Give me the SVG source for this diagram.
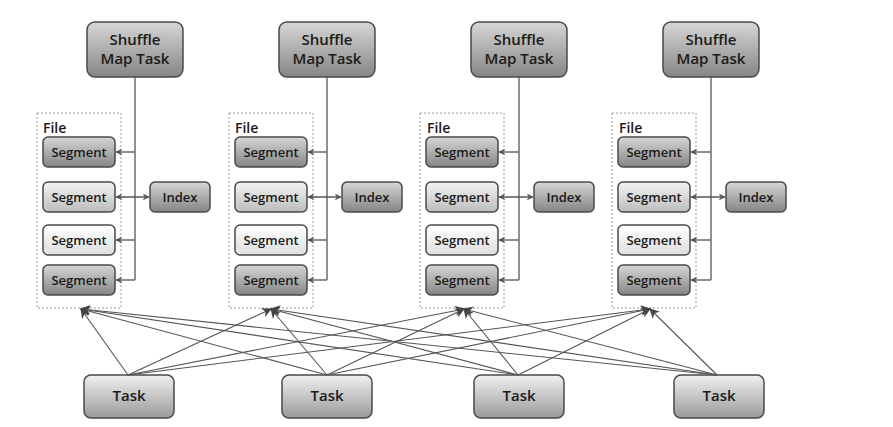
<svg xmlns="http://www.w3.org/2000/svg" width="893" height="427" viewBox="0 0 893 427">
<defs>
<linearGradient id="gDark" x1="0" y1="0" x2="0" y2="1"><stop offset="0" stop-color="#d6d6d6"/><stop offset="1" stop-color="#858585"/></linearGradient>
<linearGradient id="gMid" x1="0" y1="0" x2="0" y2="1"><stop offset="0" stop-color="#f4f4f4"/><stop offset="1" stop-color="#bcbcbc"/></linearGradient>
<linearGradient id="gLight" x1="0" y1="0" x2="0" y2="1"><stop offset="0" stop-color="#ffffff"/><stop offset="1" stop-color="#dedede"/></linearGradient>
<linearGradient id="gTask" x1="0" y1="0" x2="0" y2="1"><stop offset="0" stop-color="#f0f0f0"/><stop offset="1" stop-color="#9a9a9a"/></linearGradient>
<marker id="ah" viewBox="0 0 10 10" refX="9" refY="5" markerWidth="7" markerHeight="7" orient="auto-start-reverse" markerUnits="userSpaceOnUse">
<path d="M0,0 L10,5 L0,10 L3,5 z" fill="#555"/>
</marker>
<marker id="ah2" viewBox="0 0 10 10" refX="9" refY="5" markerWidth="10" markerHeight="10" orient="auto" markerUnits="userSpaceOnUse">
<path d="M0,0 L10,5 L0,10 L3,5 z" fill="#444"/>
</marker>
<g id="unit">
</g>
</defs>
<style>
.box{stroke:#4a4a4a;stroke-width:1.5}
.dark{fill:url(#gDark)}
.mid{fill:url(#gMid)}
.light{fill:url(#gLight)}
.task{fill:url(#gTask)}
.file{fill:none;stroke:#9a9a9a;stroke-width:1;stroke-dasharray:2,2}
text{font-family:"Open Sans","Noto Sans","Liberation Sans",sans-serif;font-weight:600;fill:#1a1a1a;text-anchor:middle}
.t15{font-size:15px}
.t13{font-size:13px}
.lab{text-anchor:start;font-size:14px}
.ln{stroke:#555;stroke-width:1.3;fill:none}
.ta{stroke:#555;stroke-width:1.1;fill:none}
</style>
<rect width="893" height="427" fill="#ffffff"/>

<g id="group1">
<g id="smt1"><rect class="box dark" x="87" y="22" width="96" height="55" rx="8"/><text class="t15" x="135" y="45">Shuffle</text><text class="t15" x="135" y="64">Map Task</text></g>
<g id="file1"><rect class="file" x="37" y="113" width="84" height="195"/><text class="lab" x="43" y="133">File</text></g>
<g id="seg1a"><rect class="box dark" x="43" y="137" width="72" height="30" rx="5"/><text class="t13" x="79" y="157">Segment</text></g>
<g id="seg1b"><rect class="box mid" x="43" y="182" width="72" height="30" rx="5"/><text class="t13" x="79" y="202">Segment</text></g>
<g id="seg1c"><rect class="box light" x="43" y="225" width="72" height="30" rx="5"/><text class="t13" x="79" y="245">Segment</text></g>
<g id="seg1d"><rect class="box dark" x="43" y="265" width="72" height="30" rx="5"/><text class="t13" x="79" y="285">Segment</text></g>
<g id="idx1"><rect class="box dark" x="150" y="182" width="60" height="30" rx="5"/><text class="t13" x="180" y="202">Index</text></g>
</g>

<g id="group2">
<g id="smt2"><rect class="box dark" x="279" y="22" width="96" height="55" rx="8"/><text class="t15" x="327" y="45">Shuffle</text><text class="t15" x="327" y="64">Map Task</text></g>
<g id="file2"><rect class="file" x="229" y="113" width="84" height="195"/><text class="lab" x="235" y="133">File</text></g>
<g id="seg2a"><rect class="box dark" x="235" y="137" width="72" height="30" rx="5"/><text class="t13" x="271" y="157">Segment</text></g>
<g id="seg2b"><rect class="box mid" x="235" y="182" width="72" height="30" rx="5"/><text class="t13" x="271" y="202">Segment</text></g>
<g id="seg2c"><rect class="box light" x="235" y="225" width="72" height="30" rx="5"/><text class="t13" x="271" y="245">Segment</text></g>
<g id="seg2d"><rect class="box dark" x="235" y="265" width="72" height="30" rx="5"/><text class="t13" x="271" y="285">Segment</text></g>
<g id="idx2"><rect class="box dark" x="342" y="182" width="60" height="30" rx="5"/><text class="t13" x="372" y="202">Index</text></g>
</g>

<g id="group3">
<g id="smt3"><rect class="box dark" x="471" y="22" width="96" height="55" rx="8"/><text class="t15" x="519" y="45">Shuffle</text><text class="t15" x="519" y="64">Map Task</text></g>
<g id="file3"><rect class="file" x="420" y="113" width="84" height="195"/><text class="lab" x="427" y="133">File</text></g>
<g id="seg3a"><rect class="box dark" x="426" y="137" width="72" height="30" rx="5"/><text class="t13" x="462" y="157">Segment</text></g>
<g id="seg3b"><rect class="box mid" x="426" y="182" width="72" height="30" rx="5"/><text class="t13" x="462" y="202">Segment</text></g>
<g id="seg3c"><rect class="box light" x="426" y="225" width="72" height="30" rx="5"/><text class="t13" x="462" y="245">Segment</text></g>
<g id="seg3d"><rect class="box dark" x="426" y="265" width="72" height="30" rx="5"/><text class="t13" x="462" y="285">Segment</text></g>
<g id="idx3"><rect class="box dark" x="534" y="182" width="60" height="30" rx="5"/><text class="t13" x="564" y="202">Index</text></g>
</g>

<g id="group4">
<g id="smt4"><rect class="box dark" x="663" y="22" width="96" height="55" rx="8"/><text class="t15" x="711" y="45">Shuffle</text><text class="t15" x="711" y="64">Map Task</text></g>
<g id="file4"><rect class="file" x="612" y="113" width="84" height="195"/><text class="lab" x="619" y="133">File</text></g>
<g id="seg4a"><rect class="box dark" x="618" y="137" width="72" height="30" rx="5"/><text class="t13" x="654" y="157">Segment</text></g>
<g id="seg4b"><rect class="box mid" x="618" y="182" width="72" height="30" rx="5"/><text class="t13" x="654" y="202">Segment</text></g>
<g id="seg4c"><rect class="box light" x="618" y="225" width="72" height="30" rx="5"/><text class="t13" x="654" y="245">Segment</text></g>
<g id="seg4d"><rect class="box dark" x="618" y="265" width="72" height="30" rx="5"/><text class="t13" x="654" y="285">Segment</text></g>
<g id="idx4"><rect class="box dark" x="726" y="182" width="60" height="30" rx="5"/><text class="t13" x="756" y="202">Index</text></g>
</g>

<g id="tasks">
<g id="task1"><rect class="box task" x="84" y="375" width="90" height="43" rx="7"/><text class="t15" x="129" y="401">Task</text></g>
<g id="task2"><rect class="box task" x="282" y="375" width="90" height="43" rx="7"/><text class="t15" x="327" y="401">Task</text></g>
<g id="task3"><rect class="box task" x="474" y="375" width="90" height="43" rx="7"/><text class="t15" x="519" y="401">Task</text></g>
<g id="task4"><rect class="box task" x="674" y="375" width="90" height="43" rx="7"/><text class="t15" x="719" y="401">Task</text></g>
</g>

<g id="connectors">
<g id="c1">
<line class="ln" x1="135" y1="77" x2="135" y2="280"/>
<line class="ln" x1="135" y1="152" x2="116" y2="152" marker-end="url(#ah)"/>
<line class="ln" x1="116" y1="197" x2="149" y2="197" marker-start="url(#ah)" marker-end="url(#ah)"/>
<line class="ln" x1="135" y1="240" x2="116" y2="240" marker-end="url(#ah)"/>
<line class="ln" x1="135" y1="280" x2="116" y2="280" marker-end="url(#ah)"/>
</g>
<g id="c2">
<line class="ln" x1="327" y1="77" x2="327" y2="280"/>
<line class="ln" x1="327" y1="152" x2="308" y2="152" marker-end="url(#ah)"/>
<line class="ln" x1="308" y1="197" x2="341" y2="197" marker-start="url(#ah)" marker-end="url(#ah)"/>
<line class="ln" x1="327" y1="240" x2="308" y2="240" marker-end="url(#ah)"/>
<line class="ln" x1="327" y1="280" x2="308" y2="280" marker-end="url(#ah)"/>
</g>
<g id="c3">
<line class="ln" x1="519" y1="77" x2="519" y2="280"/>
<line class="ln" x1="519" y1="152" x2="499" y2="152" marker-end="url(#ah)"/>
<line class="ln" x1="499" y1="197" x2="533" y2="197" marker-start="url(#ah)" marker-end="url(#ah)"/>
<line class="ln" x1="519" y1="240" x2="499" y2="240" marker-end="url(#ah)"/>
<line class="ln" x1="519" y1="280" x2="499" y2="280" marker-end="url(#ah)"/>
</g>
<g id="c4">
<line class="ln" x1="711" y1="77" x2="711" y2="280"/>
<line class="ln" x1="711" y1="152" x2="691" y2="152" marker-end="url(#ah)"/>
<line class="ln" x1="691" y1="197" x2="725" y2="197" marker-start="url(#ah)" marker-end="url(#ah)"/>
<line class="ln" x1="711" y1="240" x2="691" y2="240" marker-end="url(#ah)"/>
<line class="ln" x1="711" y1="280" x2="691" y2="280" marker-end="url(#ah)"/>
</g>
<g id="taskarrows">
<line class="ta" x1="128" y1="375" x2="81" y2="309" marker-end="url(#ah2)"/>
<line class="ta" x1="128" y1="375" x2="271" y2="309" marker-end="url(#ah2)"/>
<line class="ta" x1="128" y1="375" x2="464" y2="309" marker-end="url(#ah2)"/>
<line class="ta" x1="128" y1="375" x2="650" y2="309" marker-end="url(#ah2)"/>
<line class="ta" x1="327" y1="375" x2="81" y2="309" marker-end="url(#ah2)"/>
<line class="ta" x1="327" y1="375" x2="271" y2="309" marker-end="url(#ah2)"/>
<line class="ta" x1="327" y1="375" x2="464" y2="309" marker-end="url(#ah2)"/>
<line class="ta" x1="327" y1="375" x2="650" y2="309" marker-end="url(#ah2)"/>
<line class="ta" x1="518" y1="375" x2="81" y2="309" marker-end="url(#ah2)"/>
<line class="ta" x1="518" y1="375" x2="271" y2="309" marker-end="url(#ah2)"/>
<line class="ta" x1="518" y1="375" x2="464" y2="309" marker-end="url(#ah2)"/>
<line class="ta" x1="518" y1="375" x2="650" y2="309" marker-end="url(#ah2)"/>
<line class="ta" x1="717" y1="375" x2="81" y2="309" marker-end="url(#ah2)"/>
<line class="ta" x1="717" y1="375" x2="271" y2="309" marker-end="url(#ah2)"/>
<line class="ta" x1="717" y1="375" x2="464" y2="309" marker-end="url(#ah2)"/>
<line class="ta" x1="717" y1="375" x2="650" y2="309" marker-end="url(#ah2)"/>
</g>
</g>
</svg>
